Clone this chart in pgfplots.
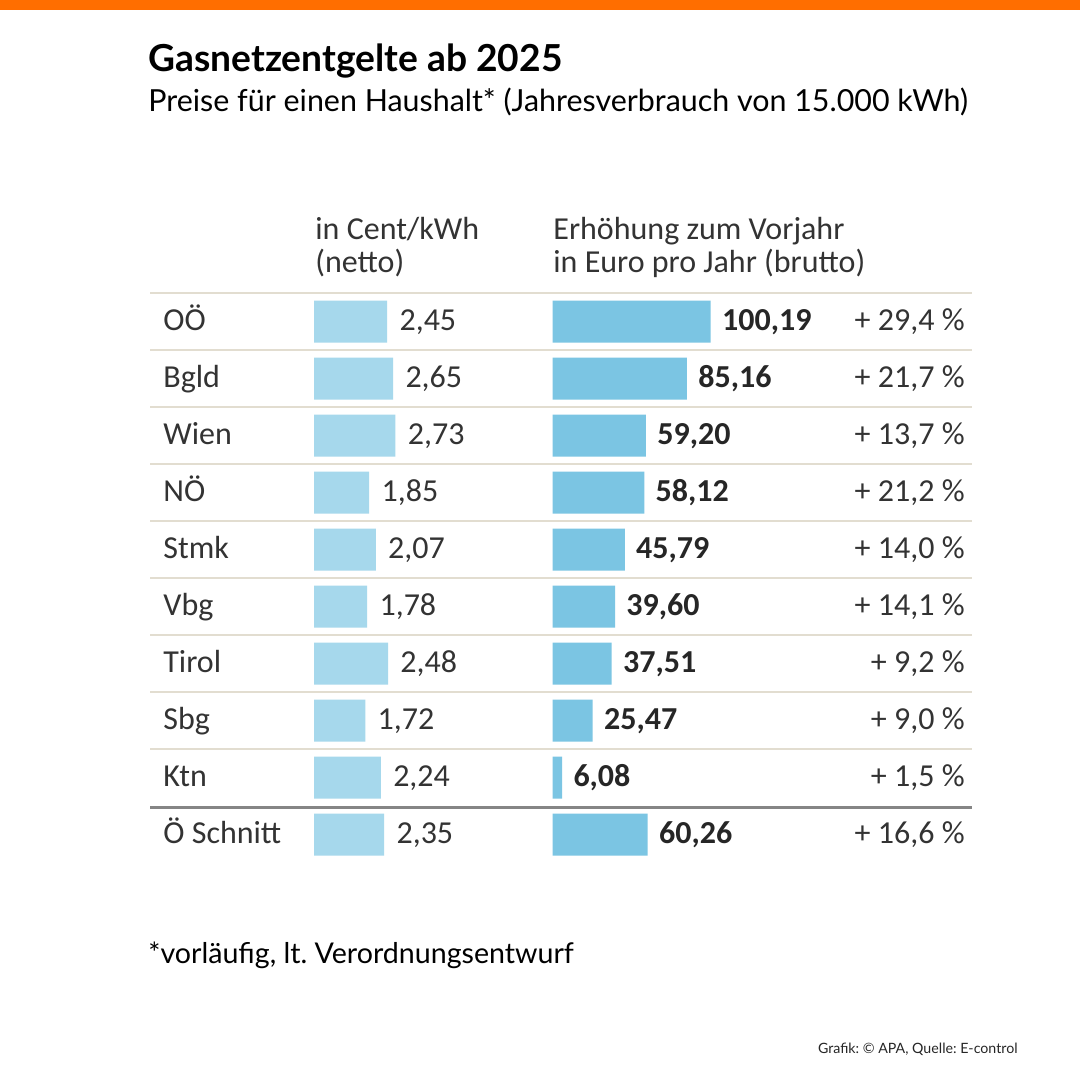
\documentclass[border=0pt]{standalone}
\usepackage{fontspec}
\setmainfont{Carlito}
\newfontfamily\lato{Lato}
\usepackage{pgfplots}
\pgfplotsset{compat=1.18}
\usepackage{pgfplotstable}
\definecolor{orangetop}{HTML}{FF6E00}
\definecolor{barL}{HTML}{A6D8EC}
\definecolor{barR}{HTML}{7BC5E3}
\definecolor{txt}{HTML}{333333}
\definecolor{gridc}{HTML}{E2DDD0}
\definecolor{darkline}{HTML}{858585}
\frenchspacing

\pgfplotstableread{
r v l
0 2.45 2,45
1 2.65 2,65
2 2.73 2,73
3 1.85 1,85
4 2.07 2,07
5 1.78 1,78
6 2.48 2,48
7 1.72 1,72
8 2.24 2,24
9 2.35 2,35
}\netto

\pgfplotstableread{
r v l
0 100.19 100,19
1 85.16 85,16
2 59.20 59,20
3 58.12 58,12
4 45.79 45,79
5 39.60 39,60
6 37.51 37,51
7 25.47 25,47
8 6.08 6,08
9 60.26 60,26
}\erh

\begin{document}
\begin{tikzpicture}
\path[use as bounding box, fill=white] (0pt,0pt) rectangle (540pt,-540pt);
\fill[orangetop] (0pt,0pt) rectangle (540pt,-5.25pt);

% titles
\node[anchor=base west, inner sep=0pt, font=\lato\bfseries\fontsize{18.6}{21}\selectfont] at (74pt,-36pt) {Gasnetzentgelte ab 2025};
\node[anchor=base west, inner sep=0pt, font=\lato\fontsize{15.2}{18}\selectfont] at (74pt,-56pt) {Preise für einen Haushalt* (Jahresverbrauch von 15.000 kWh)};

% headers
\begin{scope}[every node/.style={anchor=base west, inner sep=0pt, text=txt, font=\fontsize{16}{19}\selectfont}]
\node at (157.5pt,-120pt) {in Cent/kWh};
\node at (157.5pt,-136.5pt) {(netto)};
\node at (276.5pt,-120pt) {Erhöhung zum Vorjahr};
\node at (276.5pt,-136.5pt) {in Euro pro Jahr (brutto)};
\end{scope}

% separator lines
\foreach \yy in {293,350,407,464,521,578,635,692,749}{
  \draw[gridc, line width=1pt] (75pt,-\yy*0.5pt) -- (486pt,-\yy*0.5pt);
}
\draw[darkline, line width=1.5pt] (75pt,-403.5pt) -- (486pt,-403.5pt);

% left axis
\begin{axis}[at={(157pt,-146.5pt)}, anchor=north west, scale only axis,
  width=74.625pt, height=285pt, xmin=0, xmax=5, ymin=-0.5, ymax=9.5, y dir=reverse,
  axis line style={draw=none}, xtick=\empty, ytick={0,...,9},
  yticklabels={OÖ,Bgld,Wien,NÖ,Stmk,Vbg,Tirol,Sbg,Ktn,Ö Schnitt},
  major tick length=0pt, clip=false,
  yticklabel style={anchor=west, inner sep=0pt, xshift=-75.5pt, yshift=-1.5pt, text=txt,
    font=\fontsize{16}{19}\selectfont, text height=0.64em, text depth=0pt}]
\addplot[xbar, bar width=21pt, fill=barL, draw=none,
  nodes near coords, point meta=explicit symbolic,
  every node near coord/.append style={anchor=west, inner sep=0pt, xshift=6pt, yshift=-1.5pt, text=txt,
    font=\fontsize{16}{19}\selectfont, text height=0.64em, text depth=0pt}]
  table[x=v, y=r, meta=l] {\netto};
\end{axis}

% right axis
\begin{axis}[at={(276.25pt,-146.5pt)}, anchor=north west, scale only axis,
  width=94.75pt, height=285pt, xmin=0, xmax=120, ymin=-0.5, ymax=9.5, y dir=reverse,
  axis line style={draw=none}, xtick=\empty, ytick={0,...,9}, yticklabel pos=right,
  yticklabels={{+ 29,4 \%},{+ 21,7 \%},{+ 13,7 \%},{+ 21,2 \%},{+ 14,0 \%},{+ 14,1 \%},{+ 9,2 \%},{+ 9,0 \%},{+ 1,5 \%},{+ 16,6 \%}},
  major tick length=0pt, clip=false,
  yticklabel style={anchor=east, inner sep=0pt, xshift=111.5pt, yshift=-1.5pt, text=txt,
    font=\fontsize{16}{19}\selectfont, text height=0.64em, text depth=0pt}]
\addplot[xbar, bar width=21pt, fill=barR, draw=none,
  nodes near coords, point meta=explicit symbolic,
  every node near coord/.append style={anchor=west, inner sep=0pt, xshift=5.5pt, yshift=-1.5pt, text=black!85,
    font=\bfseries\fontsize{16}{19}\selectfont, text height=0.64em, text depth=0pt}]
  table[x=v, y=r, meta=l] {\erh};
\end{axis}

% footnotes
\node[anchor=base west, inner sep=0pt, font=\lato\fontsize{14.3}{17}\selectfont] at (74pt,-481.5pt) {*vorläufig, lt. Verordnungsentwurf};
\node[anchor=base east, inner sep=0pt, font=\lato\fontsize{7.1}{9}\selectfont, text=black!85] at (509pt,-526.5pt) {Grafik: © APA, Quelle: E-control};
\end{tikzpicture}
\end{document}
